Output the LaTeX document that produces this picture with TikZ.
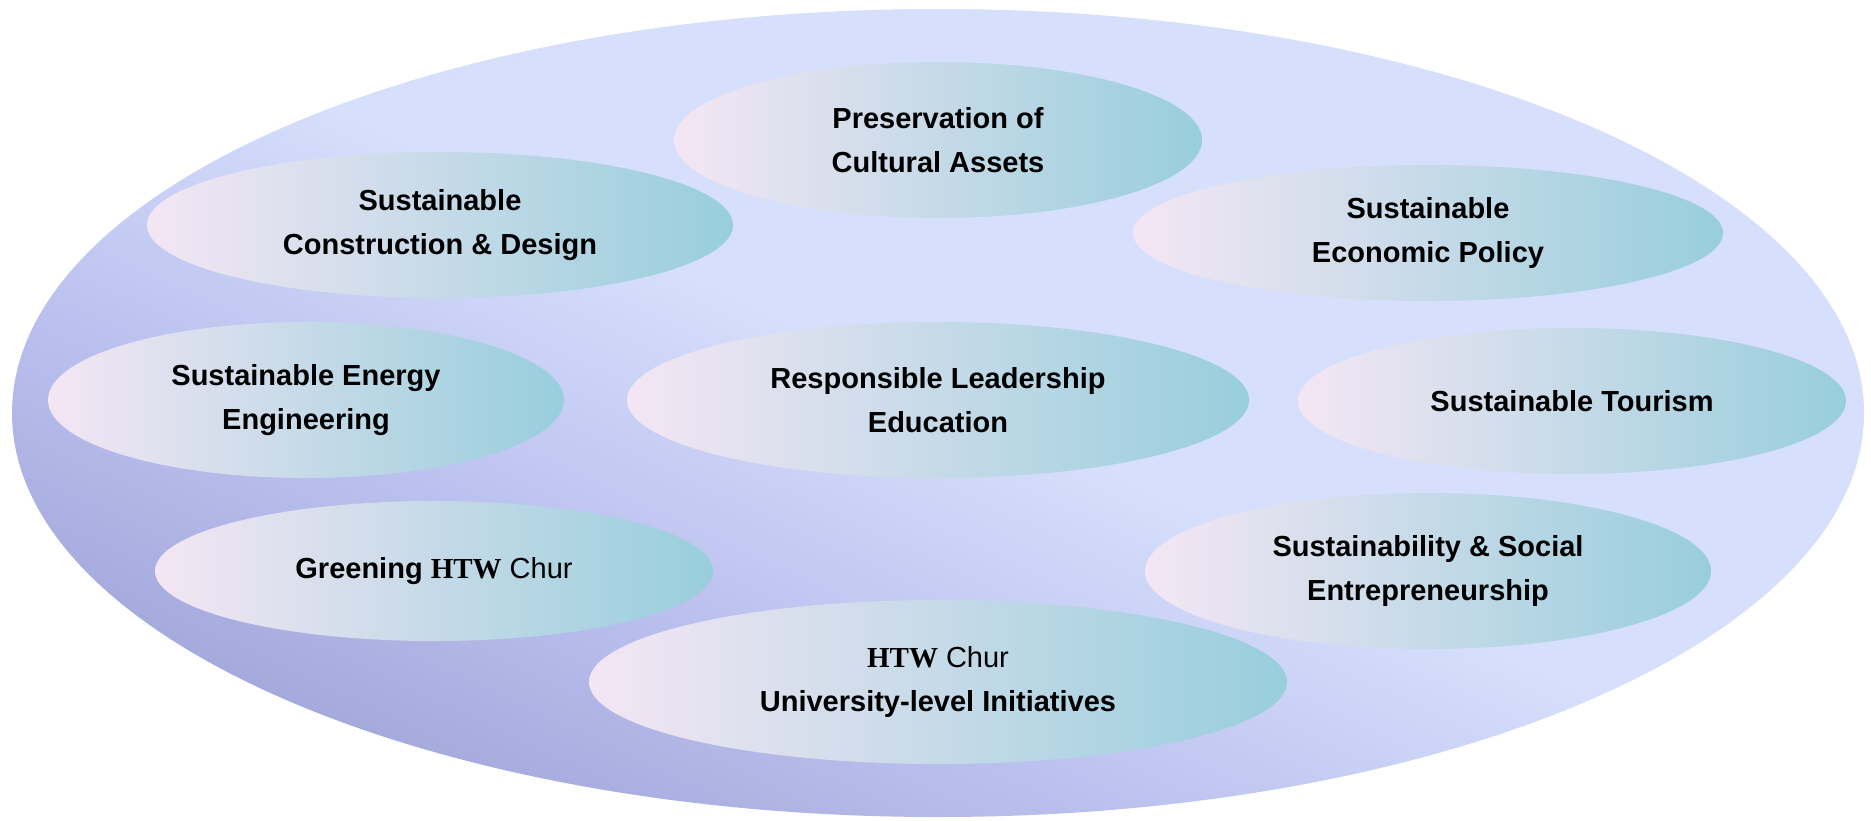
\documentclass[tikz,border=0pt]{standalone}
\usepackage{fontspec}
\setmainfont{Liberation Sans}
\newfontfamily\htwfont{Liberation Serif}
\usetikzlibrary{shapes.geometric}
\definecolor{fieldlight}{RGB}{214,223,252}
\definecolor{fieldmid}{RGB}{186,192,238}
\definecolor{fielddark}{RGB}{152,156,210}
\definecolor{topicleft}{RGB}{244,230,244}
\definecolor{topicright}{RGB}{152,206,220}
\pgfdeclareverticalshading{fieldshade}{100bp}{color(0bp)=(fielddark); color(20bp)=(fielddark); color(37bp)=(fieldmid); color(51bp)=(fieldlight); color(100bp)=(fieldlight)}
\newcommand{\htw}{{\htwfont\bfseries HTW}}
\tikzset{
	every node/.style={
		font=\fontsize{29}{44}\selectfont\bfseries
	},
	field/.style={
		shape=ellipse,
		inner sep=0pt,
		shading=fieldshade,
		shading angle=-25
	},
	topic/.style={
		shape=ellipse,
		inner sep=0pt,
		align=center,
		left color=topicleft,
		right color=topicright
	}
}

\begin{document}
\begin{tikzpicture}
	[x=1pt,y=-1pt]
	\useasboundingbox (0,0) rectangle (1871,820);
	
	\node[field, minimum width=1852pt, minimum height=808pt] (field) at (938,413) {};
	
	\foreach \name/\x/\y/\w/\h/\txt in {
		pres/938/140/528/156/{Preservation of\\Cultural Assets},
		constr/440/225/586/146/{Sustainable\\Construction \& Design},
		econ/1428/233/590/136/{Sustainable\\Economic Policy},
		energy/306/400/516/156/{Sustainable Energy\\Engineering},
		lead/938/400/622/156/{Responsible Leadership\\Education},
		tour/1572/401/548/146/{Sustainable Tourism},
		green/434/571/558/140/{Greening \htw{} {\mdseries Chur}},
		social/1428/571/566/156/{Sustainability \& Social\\Entrepreneurship},
		univ/938/682/698/164/{\htw{} {\mdseries Chur}\\University-level Initiatives}}
	\node[topic, minimum width=\w pt, minimum height=\h pt] (\name) at (\x,\y) {\txt};
\end{tikzpicture}
\end{document}
